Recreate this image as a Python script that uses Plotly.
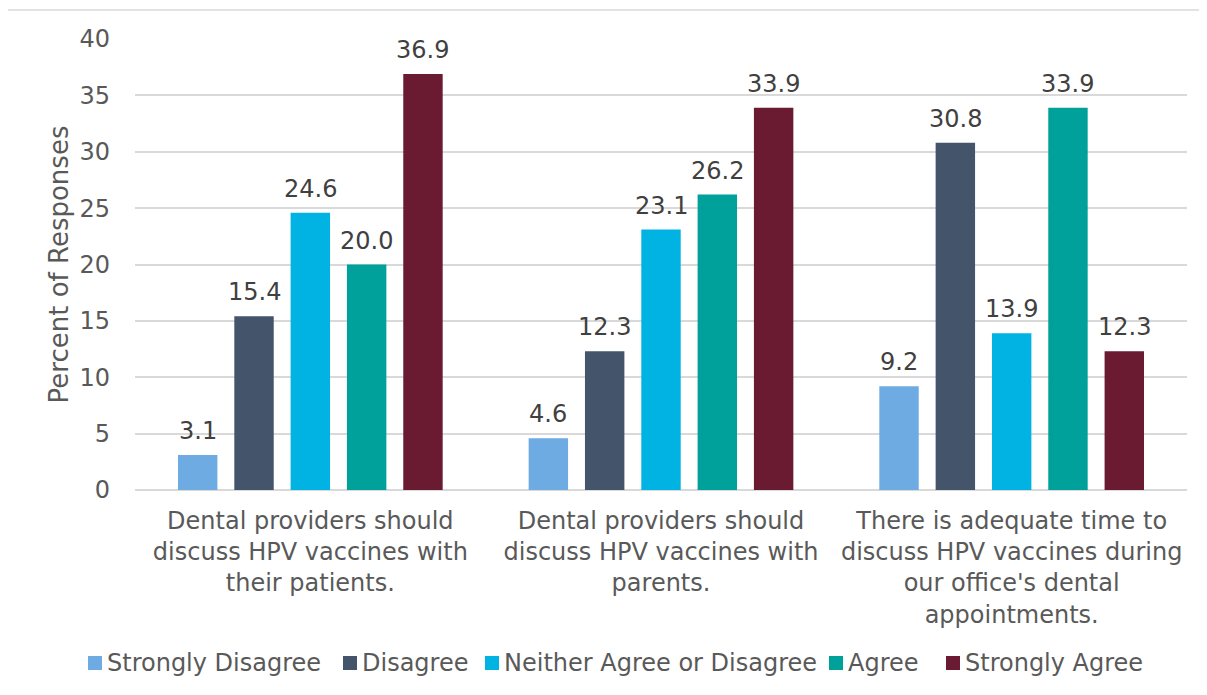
import plotly.graph_objects as go

categories = [
    "Dental providers should<br>discuss HPV vaccines with<br>their patients.",
    "Dental providers should<br>discuss HPV vaccines with<br>parents.",
    "There is adequate time to<br>discuss HPV vaccines during<br>our office's dental<br>appointments.",
]
series_names = ["Strongly Disagree", "Disagree", "Neither Agree or Disagree", "Agree", "Strongly Agree"]
strongly_disagree = [3.1, 4.6, 9.2]
disagree = [15.4, 12.3, 30.8]
neither = [24.6, 23.1, 13.9]
agree = [20.0, 26.2, 33.9]
strongly_agree = [36.9, 33.9, 12.3]
colors = ["#6FABE3", "#44546A", "#00B3E3", "#00A19A", "#6A1A31"]

values = [strongly_disagree, disagree, neither, agree, strongly_agree]
font_family = "DejaVu Sans, Verdana, sans-serif"
text_color = "#595959"
label_color = "#404040"

# page has an 8px body margin; figure coordinates = page coordinates - 8
OFF = 8
W, H = 1207 - OFF, 695 - OFF
l, r, t, b = 135 - OFF, 20, 39 - OFF, H - (490 - OFF)
pw, ph = W - l - r, H - t - b
BARGAP = 0.197
n_series = len(series_names)
slot_px = (1 - BARGAP) * (pw / len(categories)) / n_series

def px(x):
    return (x - OFF - l) / pw

def py(y):
    return (H - b - (y - OFF)) / ph

fig = go.Figure()
annotations = []
for i, (name, vals, col) in enumerate(zip(series_names, values, colors)):
    fig.add_trace(go.Bar(
        name=name, x=categories, y=vals, marker_color=col, marker_line_width=0,
        showlegend=False,
    ))
    for cat, v in zip(categories, vals):
        annotations.append(dict(
            x=cat, y=v, xref="x", yref="y", text=f"{v:.1f}", showarrow=False,
            xanchor="center", yanchor="bottom", xshift=(i - (n_series - 1) / 2) * slot_px, yshift=8,
            font=dict(size=24, color=label_color, family=font_family),
        ))

# custom legend (square swatch + label), laid out like the reference
legend_text_x = [107, 362, 504, 848, 965]
legend_y = 663
shapes = [dict(type="rect", xref="paper", yref="paper",
               x0=px(7), x1=px(1215), y0=py(705), y1=py(10),
               line=dict(color="#D9D9D9", width=1.5), fillcolor="rgba(0,0,0,0)", layer="below")]
for name, col, tx in zip(series_names, colors, legend_text_x):
    shapes.append(dict(type="rect", xref="paper", yref="paper",
                       x0=px(tx - 19), x1=px(tx - 5), y0=py(legend_y + 7), y1=py(legend_y - 7),
                       line=dict(width=0), fillcolor=col))
    annotations.append(dict(x=px(tx - 2), y=py(legend_y), xref="paper", yref="paper", text=name,
                            showarrow=False, xanchor="left", yanchor="middle",
                            font=dict(size=24, color=text_color, family=font_family)))

fig.update_layout(
    width=W, height=H,
    margin=dict(l=l, r=r, t=t, b=b, autoexpand=False),
    barmode="group", bargap=BARGAP, bargroupgap=0.3,
    paper_bgcolor="white", plot_bgcolor="white",
    font=dict(family=font_family, color=text_color, size=24),
    showlegend=False,
    xaxis=dict(showgrid=False, showline=False, ticks="", tickfont=dict(size=24, color=text_color),
               ticklabelstandoff=14, automargin=False),
    yaxis=dict(range=[0, 40], dtick=5, showgrid=True, gridcolor="#D9D9D9", gridwidth=1.5,
               zeroline=True, zerolinecolor="#D9D9D9", zerolinewidth=1.5,
               showline=False, ticks="", tickfont=dict(size=24, color=text_color),
               ticklabelstandoff=24, automargin=False,
               title=dict(text="Percent of Responses", font=dict(size=26, color=text_color), standoff=3)),
    shapes=shapes,
    annotations=annotations,
)

fig.write_html("out.html")
